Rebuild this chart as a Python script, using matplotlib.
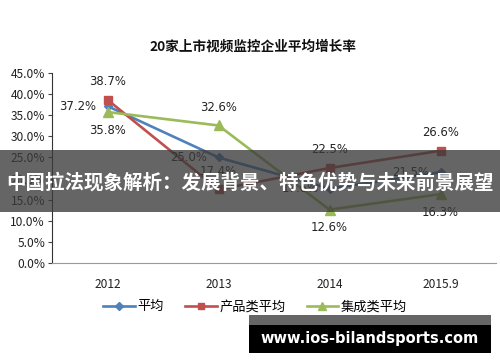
import matplotlib
matplotlib.use("Agg")
import matplotlib.pyplot as plt
from matplotlib.patches import Rectangle
from matplotlib.ticker import FuncFormatter

plt.rcParams['font.family'] = ['Noto Sans CJK SC', 'DejaVu Sans']

categories = ["2012", "2013", "2014", "2015.9"]
avg = [37.2, 25.0, 17.6, 21.5]
product = [38.7, 17.4, 22.5, 26.6]
integration = [35.8, 32.6, 12.6, 16.3]
series_names = ["平均", "产品类平均", "集成类平均"]
title = "20家上市视频监控企业平均增长率"
banner = "中国拉法现象解析：发展背景、特色优势与未来前景展望"
site = "www.ios-bilandsports.com"

blue, red, green = "#4F81BD", "#C0504D", "#9BBB59"

fig = plt.figure(figsize=(5.0, 3.62), dpi=100)
ax = fig.add_axes([0.104, 0.2743, 0.888, 0.5232])
x = list(range(len(categories)))

ax.plot(x, avg, color=blue, lw=1.9, marker="D", ms=4.5, label=series_names[0], zorder=3)
ax.plot(x, product, color=red, lw=1.9, marker="s", ms=6, label=series_names[1], zorder=3)
ax.plot(x, integration, color=green, lw=1.9, marker="^", ms=6.5, label=series_names[2], zorder=3)

ax.set_xlim(-0.5, len(categories) - 0.5)
ax.set_ylim(0, 45)
ax.set_yticks([0, 5, 10, 15, 20, 25, 30, 35, 40, 45])
ax.yaxis.set_major_formatter(FuncFormatter(lambda v, p: f"{v:.1f}%"))
ax.set_xticks(x)
ax.set_xticklabels(categories)
ax.tick_params(axis='y', labelsize=8.6, length=3, width=0.8, color="#444444", pad=2, labelcolor="#222222")
ax.tick_params(axis='x', labelsize=8.6, length=0, pad=11, labelcolor="#222222")
for s in ["top", "right"]:
    ax.spines[s].set_visible(False)
ax.spines["left"].set_color("#333333")
ax.spines["bottom"].set_color("#999999")

def lab(xi, v, dx, dy, ha):
    ax.annotate(f"{v:.1f}%", (xi, v), xytext=(dx, dy), textcoords="offset points",
                ha=ha, va="center", fontsize=8.4, color="#222222", family="DejaVu Sans")

# blue labels: left
for i, v in enumerate(avg):
    lab(i, v, -8, 0, "right")
# red labels: above
for i, v in enumerate(product):
    lab(i, v, 0, 13, "center")
# green labels
for i, v in enumerate(integration):
    lab(i, v, 0, 13 if i == 1 else -13, "center")

fig.text(0.506, 0.872, title, ha="center", va="center", fontsize=9.8, fontweight="bold", color="#111111")

leg = fig.legend(loc="center", bbox_to_anchor=(0.51, 0.152), ncol=3, frameon=False,
                 fontsize=9.5, handlelength=2.4, columnspacing=1.6, handletextpad=0.2,
                 markerscale=0.8)

# overlay banner
fig.patches.append(Rectangle((0, 1 - 212 / 362), 1, 62 / 362, transform=fig.transFigure,
                             facecolor="#3a3a3a", alpha=0.78, edgecolor="none", zorder=10))
fig.text(0.5, 1 - 183 / 362, banner, ha="center", va="center", fontsize=14,
         fontweight="bold", color="white", zorder=11)

# bottom site banner
fig.patches.append(Rectangle((249 / 500, 1 - 325 / 362), 242 / 500, 10 / 362, transform=fig.transFigure,
                             facecolor="#666666", edgecolor="none", zorder=10))
fig.patches.append(Rectangle((249 / 500, 1 - 353 / 362), 242 / 500, 28 / 362, transform=fig.transFigure,
                             facecolor="black", edgecolor="none", zorder=10))
fig.text(370 / 500, 1 - 338 / 362, site, ha="center", va="center", fontsize=10.5,
         fontweight="bold", color="white", family="DejaVu Sans", zorder=11)

fig.savefig("out.png", dpi=100)
